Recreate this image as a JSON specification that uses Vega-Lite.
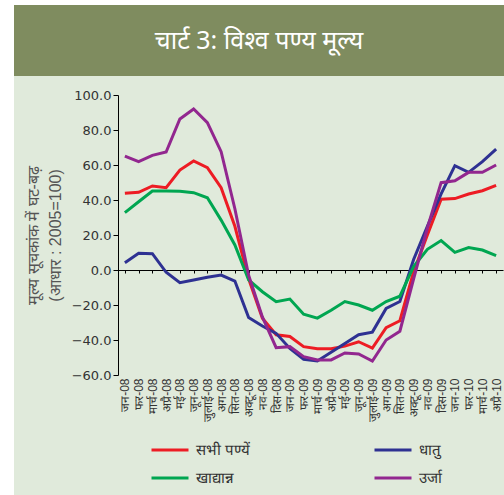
{
"$schema": "https://vega.github.io/schema/vega-lite/v6.json",
"background": "white",
"padding": {"left": 14, "top": 5, "right": 0, "bottom": 0},
"spacing": 0,
"config": {"view": {"stroke": null}, "concat": {"spacing": 0}},
"vconcat": [
{
"width": 490, "height": 71,
"view": {"fill": "#7F8C5F", "stroke": null},
"data": {"values": [{"t": "चार्ट 3: विश्व पण्य मूल्य"}]},
"mark": {"type": "text", "color": "white", "fontSize": 25, "font": "Noto Sans"},
"encoding": {"text": {"field": "t", "type": "nominal"}}
},
{
"width": 490, "height": 419,
"view": {"fill": "#E0EADB", "stroke": null},
"data": {"values": [
{"m":"जन-08","s":"सभी पण्यें","v":43.8},{"m":"फर-08","s":"सभी पण्यें","v":44.4},{"m":"मार्च-08","s":"सभी पण्यें","v":48},{"m":"अप्रै-08","s":"सभी पण्यें","v":47},{"m":"मई-08","s":"सभी पण्यें","v":57.1},{"m":"जून-08","s":"सभी पण्यें","v":62.3},{"m":"जुलाई-08","s":"सभी पण्यें","v":58.5},{"m":"अग-08","s":"सभी पण्यें","v":47},{"m":"सित-08","s":"सभी पण्यें","v":25},{"m":"अक्टू-08","s":"सभी पण्यें","v":-5},{"m":"नव-08","s":"सभी पण्यें","v":-27.6},{"m":"दिस-08","s":"सभी पण्यें","v":-37},{"m":"जन-09","s":"सभी पण्यें","v":-38},{"m":"फर-09","s":"सभी पण्यें","v":-43.8},{"m":"मार्च-09","s":"सभी पण्यें","v":-45},{"m":"अप्रै-09","s":"सभी पण्यें","v":-45},{"m":"मई-09","s":"सभी पण्यें","v":-43.5},{"m":"जून-09","s":"सभी पण्यें","v":-41},{"m":"जुलाई-09","s":"सभी पण्यें","v":-44.6},{"m":"अग-09","s":"सभी पण्यें","v":-33},{"m":"सित-09","s":"सभी पण्यें","v":-29},{"m":"अक्टू-09","s":"सभी पण्यें","v":-1},{"m":"नव-09","s":"सभी पण्यें","v":20},{"m":"दिस-09","s":"सभी पण्यें","v":40.4},{"m":"जन-10","s":"सभी पण्यें","v":40.8},{"m":"फर-10","s":"सभी पण्यें","v":43.4},{"m":"मार्च-10","s":"सभी पण्यें","v":45.3},{"m":"अप्रै-10","s":"सभी पण्यें","v":48.4},
{"m":"जन-08","s":"धातु","v":4.2},{"m":"फर-08","s":"धातु","v":9.5},{"m":"मार्च-08","s":"धातु","v":9.3},{"m":"अप्रै-08","s":"धातु","v":-1.3},{"m":"मई-08","s":"धातु","v":-7.2},{"m":"जून-08","s":"धातु","v":-5.7},{"m":"जुलाई-08","s":"धातु","v":-4.2},{"m":"अग-08","s":"धातु","v":-2.9},{"m":"सित-08","s":"धातु","v":-6.3},{"m":"अक्टू-08","s":"धातु","v":-27.2},{"m":"नव-08","s":"धातु","v":-32},{"m":"दिस-08","s":"धातु","v":-36.2},{"m":"जन-09","s":"धातु","v":-44.8},{"m":"फर-09","s":"धातु","v":-51},{"m":"मार्च-09","s":"धातु","v":-52},{"m":"अप्रै-09","s":"धातु","v":-47},{"m":"मई-09","s":"धातु","v":-42},{"m":"जून-09","s":"धातु","v":-37},{"m":"जुलाई-09","s":"धातु","v":-35.5},{"m":"अग-09","s":"धातु","v":-22},{"m":"सित-09","s":"धातु","v":-18},{"m":"अक्टू-09","s":"धातु","v":6},{"m":"नव-09","s":"धातु","v":25},{"m":"दिस-09","s":"धातु","v":43.5},{"m":"जन-10","s":"धातु","v":59.6},{"m":"फर-10","s":"धातु","v":55.8},{"m":"मार्च-10","s":"धातु","v":61.9},{"m":"अप्रै-10","s":"धातु","v":69.1},
{"m":"जन-08","s":"खाद्यान्न","v":32.8},{"m":"फर-08","s":"खाद्यान्न","v":39},{"m":"मार्च-08","s":"खाद्यान्न","v":45.1},{"m":"अप्रै-08","s":"खाद्यान्न","v":45.1},{"m":"मई-08","s":"खाद्यान्न","v":45},{"m":"जून-08","s":"खाद्यान्न","v":44.2},{"m":"जुलाई-08","s":"खाद्यान्न","v":41.3},{"m":"अग-08","s":"खाद्यान्न","v":28.5},{"m":"सित-08","s":"खाद्यान्न","v":14.3},{"m":"अक्टू-08","s":"खाद्यान्न","v":-5.7},{"m":"नव-08","s":"खाद्यान्न","v":-12.4},{"m":"दिस-08","s":"खाद्यान्न","v":-18.1},{"m":"जन-09","s":"खाद्यान्न","v":-16.6},{"m":"फर-09","s":"खाद्यान्न","v":-25.3},{"m":"मार्च-09","s":"खाद्यान्न","v":-27.5},{"m":"अप्रै-09","s":"खाद्यान्न","v":-23},{"m":"मई-09","s":"खाद्यान्न","v":-18},{"m":"जून-09","s":"खाद्यान्न","v":-20},{"m":"जुलाई-09","s":"खाद्यान्न","v":-23},{"m":"अग-09","s":"खाद्यान्न","v":-18},{"m":"सित-09","s":"खाद्यान्न","v":-15},{"m":"अक्टू-09","s":"खाद्यान्न","v":2},{"m":"नव-09","s":"खाद्यान्न","v":11.8},{"m":"दिस-09","s":"खाद्यान्न","v":16.8},{"m":"जन-10","s":"खाद्यान्न","v":10.1},{"m":"फर-10","s":"खाद्यान्न","v":12.8},{"m":"मार्च-10","s":"खाद्यान्न","v":11.4},{"m":"अप्रै-10","s":"खाद्यान्न","v":8.2},
{"m":"जन-08","s":"उर्जा","v":65.1},{"m":"फर-08","s":"उर्जा","v":61.9},{"m":"मार्च-08","s":"उर्जा","v":65.5},{"m":"अप्रै-08","s":"उर्जा","v":67.4},{"m":"मई-08","s":"उर्जा","v":86.3},{"m":"जून-08","s":"उर्जा","v":92},{"m":"जुलाई-08","s":"उर्जा","v":84.2},{"m":"अग-08","s":"उर्जा","v":67.6},{"m":"सित-08","s":"उर्जा","v":35},{"m":"अक्टू-08","s":"उर्जा","v":-3},{"m":"नव-08","s":"उर्जा","v":-26.8},{"m":"दिस-08","s":"उर्जा","v":-44.4},{"m":"जन-09","s":"उर्जा","v":-43.8},{"m":"फर-09","s":"उर्जा","v":-49.5},{"m":"मार्च-09","s":"उर्जा","v":-51.4},{"m":"अप्रै-09","s":"उर्जा","v":-51.4},{"m":"मई-09","s":"उर्जा","v":-47.4},{"m":"जून-09","s":"उर्जा","v":-48},{"m":"जुलाई-09","s":"उर्जा","v":-52},{"m":"अग-09","s":"उर्जा","v":-40},{"m":"सित-09","s":"उर्जा","v":-35},{"m":"अक्टू-09","s":"उर्जा","v":-5},{"m":"नव-09","s":"उर्जा","v":24},{"m":"दिस-09","s":"उर्जा","v":49.9},{"m":"जन-10","s":"उर्जा","v":51},{"m":"फर-10","s":"उर्जा","v":55.8},{"m":"मार्च-10","s":"उर्जा","v":55.8},{"m":"अप्रै-10","s":"उर्जा","v":60}
]},
"layer": [
{
"mark": {"type": "point", "opacity": 0},
"encoding": {
"x": {"field": "m", "type": "ordinal", "sort": null,
"scale": {"type": "point", "range": [104, 489], "padding": 0.5},
"axis": {"orient": "bottom", "offset": -225, "labels": false, "domain": true, "domainColor": "black", "domainWidth": 1, "ticks": true, "tickSize": 3, "tickColor": "black", "title": null, "grid": false}}
}
},
{
"mark": {"type": "line", "strokeWidth": 3},
"encoding": {
"x": {"field": "m", "type": "ordinal", "sort": null,
"axis": {"orient": "bottom", "offset": -120, "domain": false, "ticks": false, "labelAngle": -90, "labelFontSize": 12, "labelColor": "#333", "labelPadding": 3, "title": null, "grid": false}},
"y": {"field": "v", "type": "quantitative",
"scale": {"domain": [-60, 100], "range": [299, 19], "nice": false, "zero": false},
"axis": {"orient": "left", "offset": -104, "values": [-60,-40,-20,0,20,40,60,80,100], "format": ".1f", "domainColor": "black", "tickColor": "black", "tickSize": 5, "labelFontSize": 13, "labelFont": "DejaVu Sans", "labelColor": "#333", "labelPadding": 2, "grid": false,
"title": ["मूल्य सूचकांक में घट-बढ़", "(आधार : 2005=100)"], "titleFontSize": 16, "titleFontWeight": "normal", "titleColor": "#555", "titlePadding": 8, "titleLineHeight": 22}},
"color": {"field": "s", "type": "nominal",
"scale": {"domain": ["सभी पण्यें", "धातु", "खाद्यान्न", "उर्जा"], "range": ["#ED1C24", "#2E3192", "#00A651", "#92278F"]},
"legend": {"orient": "none", "legendX": 136, "legendY": 425, "direction": "horizontal", "columns": 2, "title": null, "symbolType": "stroke", "symbolSize": 1369, "symbolStrokeWidth": 3, "labelFontSize": 15, "labelColor": "#333", "labelOffset": 6, "columnPadding": 117, "rowPadding": -13, "padding": 0}}
}
}
],
"resolve": {"axis": {"x": "independent"}}
}
]
}
